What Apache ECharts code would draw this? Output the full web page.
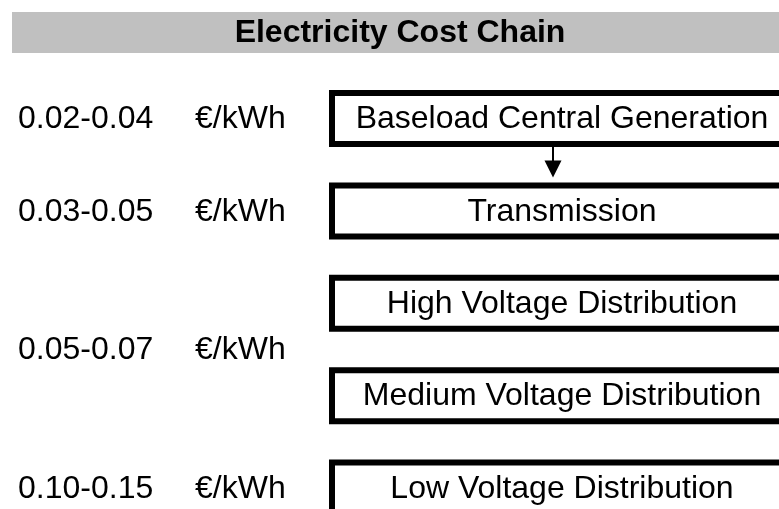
<!DOCTYPE html>
<html>
<head>
<meta charset="utf-8">
<title>Electricity Cost Chain</title>
<script src="https://cdn.jsdelivr.net/npm/echarts@6/dist/echarts.min.js"></script>
<style>
  html, body { margin: 0; padding: 0; background: #fff; }
  #chart { width: 779px; height: 509px; }
</style>
</head>
<body>
<div id="chart"></div>
<script>
const chartTitle = "Electricity Cost Chain";
const stages = [
  "Baseload Central Generation",
  "Transmission",
  "High Voltage Distribution",
  "Medium Voltage Distribution",
  "Low Voltage Distribution",
];
const costRanges = ["0.02-0.04", "0.03-0.05", "0.05-0.07", "0.10-0.15"];
const costUnit = "€/kWh";
// first and last stage each cost range covers
const costSpans = [[0, 0], [1, 1], [2, 3], [4, 4]];
// arrows between stages: [from, to]
const arrows = [[0, 1]];

const FONT = "'Liberation Sans', Arial, sans-serif";
const BOX_LEFT = 332;
const BOX_W = 460;
const BOX_H = 51;
const BORDER = 6;

const chart = echarts.init(document.getElementById("chart"));

const option = {
  animation: false,
  backgroundColor: "#fff",
  graphic: [
    {
      type: "rect",
      left: 12,
      top: 12,
      shape: { width: 767, height: 41 },
      style: { fill: "#c0c0c0" },
    },
    {
      type: "text",
      x: 400,
      y: 33,
      style: {
        text: chartTitle,
        font: "bold 32px " + FONT,
        fill: "#000",
        textAlign: "center",
        textVerticalAlign: "middle",
        align: "center",
        verticalAlign: "middle",
      },
    },
  ],
  grid: { left: 0, right: 0, top: 118.5, bottom: 21 },
  xAxis: { type: "value", min: 0, max: 1, show: false },
  yAxis: { type: "value", inverse: true, min: 0, max: 4, show: false },
  series: [
    {
      type: "custom",
      name: "stages",
      data: stages.map((s, i) => [0, i]),
      renderItem: (params, api) => {
        const y = api.coord([0, api.value(1)])[1];
        return {
          type: "group",
          children: [
            {
              type: "rect",
              shape: { x: BOX_LEFT, y: y - BOX_H / 2, width: BOX_W, height: BOX_H },
              style: { fill: "#fff", stroke: "#000", lineWidth: BORDER },
            },
            {
              type: "text",
              x: BOX_LEFT + BOX_W / 2,
              y: y + 1,
              style: {
                text: stages[params.dataIndex],
                font: "32px " + FONT,
                fill: "#000",
                textAlign: "center",
                textVerticalAlign: "middle",
                align: "center",
                verticalAlign: "middle",
              },
            },
          ],
        };
      },
    },
    {
      type: "custom",
      name: "arrows",
      data: arrows,
      renderItem: (params, api) => {
        const y0 = api.coord([0, api.value(0)])[1] + BOX_H / 2 + BORDER / 2;
        const y1 = api.coord([0, api.value(1)])[1] - BOX_H / 2 - BORDER / 2;
        const x = 553;
        const head = 17;
        return {
          type: "group",
          children: [
            {
              type: "line",
              shape: { x1: x, y1: y0, x2: x, y2: y1 - head + 1 },
              style: { stroke: "#000", lineWidth: 2 },
            },
            {
              type: "polygon",
              shape: { points: [[x - 8.5, y1 - head - 5], [x + 8.5, y1 - head - 5], [x, y1 - 5]] },
              style: { fill: "#000" },
            },
          ],
        };
      },
    },
    {
      type: "custom",
      name: "costs",
      data: costSpans.map((s) => [0, (s[0] + s[1]) / 2]),
      renderItem: (params, api) => {
        const y = api.coord([0, api.value(1)])[1];
        const base = {
          font: "32px " + FONT,
          fill: "#000",
          textAlign: "left",
          textVerticalAlign: "middle",
          align: "left",
          verticalAlign: "middle",
        };
        return {
          type: "group",
          children: [
            { type: "text", x: 18, y: y + 1, style: Object.assign({ text: costRanges[params.dataIndex] }, base) },
            { type: "text", x: 195, y: y + 1, style: Object.assign({ text: costUnit }, base) },
          ],
        };
      },
    },
  ],
};

chart.setOption(option);
window.addEventListener("resize", () => chart.resize());
</script>
</body>
</html>
